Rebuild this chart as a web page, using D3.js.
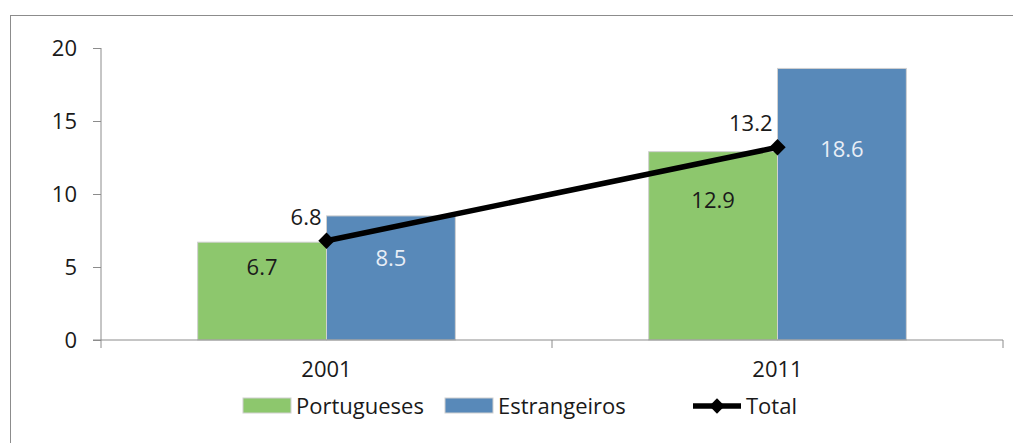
<!DOCTYPE html>
<html>
<head>
<meta charset="utf-8">
<script src="https://cdn.jsdelivr.net/npm/d3@7"></script>
<style>
  body { margin: 0; background: #fff; }
  svg { display: block; font-family: "Open Sans", sans-serif; }
  .axis path, .axis line { stroke: #8c8c8c; }
  .axis text { fill: #1a1a1a; font-size: 22px; font-family: "Open Sans", sans-serif; }
</style>
</head>
<body>
<div id="chart"></div>
<script>
// chart data
const years = ["2001", "2011"];
const portugueses = [6.7, 12.9];
const estrangeiros = [8.5, 18.6];
const total = [6.8, 13.2];
const yTicks = [0, 5, 10, 15, 20];
const seriesNames = ["Portugueses", "Estrangeiros", "Total"];

const width = 1013, height = 443;
const margin = { left: 101, right: 10, top: 48, bottom: 103 };
const green = "#8dc76d", blue = "#5889b9";
const fontSize = "22px";

const svg = d3.select("#chart").append("svg")
    .attr("width", width)
    .attr("height", height);

// outer frame (runs off right/bottom like the original)
svg.append("rect")
    .attr("x", 10.5).attr("y", 15.5)
    .attr("width", 1100).attr("height", 600)
    .attr("fill", "none").attr("stroke", "#8c8c8c");

const x = d3.scaleBand()
    .domain(years)
    .range([margin.left, width - margin.right]);

const inner = d3.scaleBand()
    .domain(["p", "e"])
    .range([0, x.bandwidth()])
    .paddingOuter(0.75);

const y = d3.scaleLinear()
    .domain([0, 20])
    .range([height - margin.bottom, margin.top]);

// bars
const rows = years.map((yr, i) => ({ yr, p: portugueses[i], e: estrangeiros[i] }));
const barData = [];
rows.forEach(r => {
    barData.push({ yr: r.yr, key: "p", v: r.p, color: green, text: "#1a1a1a" });
    barData.push({ yr: r.yr, key: "e", v: r.e, color: blue, text: "#e8eef6" });
});

svg.selectAll(".bar")
    .data(barData)
    .enter().append("rect")
    .attr("class", "bar")
    .attr("x", d => x(d.yr) + inner(d.key))
    .attr("y", d => y(d.v))
    .attr("width", inner.bandwidth())
    .attr("height", d => y(0) - y(d.v))
    .attr("fill", d => d.color)
    .attr("stroke", "#d0d0d0")
    .attr("stroke-width", 1);

// axes
svg.append("g")
    .attr("class", "axis")
    .attr("transform", `translate(${margin.left},0)`)
    .call(d3.axisLeft(y).tickValues(yTicks).tickSize(8).tickPadding(16).tickSizeOuter(0))
    .call(g => g.select(".domain").attr("d", `M0,${y(20)}V${y(0)}`));

const xAxis = svg.append("g")
    .attr("class", "axis")
    .attr("transform", `translate(0,${y(0)})`);
xAxis.append("line")
    .attr("x1", margin.left - 8).attr("x2", width - margin.right)
    .attr("stroke", "#8c8c8c");
const xTickPos = [margin.left, ...years.map(d => x(d) + x.bandwidth())];
xAxis.selectAll(".xt")
    .data(xTickPos)
    .enter().append("line")
    .attr("x1", d => d).attr("x2", d => d)
    .attr("y1", 0).attr("y2", 8)
    .attr("stroke", "#8c8c8c");
xAxis.selectAll(".xl")
    .data(years)
    .enter().append("text")
    .attr("x", d => x(d) + x.bandwidth() / 2)
    .attr("y", 37)
    .attr("text-anchor", "middle")
    .attr("fill", "#1a1a1a")
    .style("font-size", fontSize)
    .text(d => d);

// bar labels (hand placed below the top, like the original)
const labelDrop = { p: [25, 48], e: [42, 81] };
svg.selectAll(".blabel")
    .data(barData)
    .enter().append("text")
    .attr("x", d => x(d.yr) + inner(d.key) + inner.bandwidth() / 2)
    .attr("y", d => y(d.v) + labelDrop[d.key][years.indexOf(d.yr)] + 8)
    .attr("text-anchor", "middle")
    .attr("fill", d => d.text)
    .style("font-size", fontSize)
    .text(d => d.v.toFixed(1));

// total line
const pts = years.map((yr, i) => ({ yr, v: total[i] }));
const line = d3.line()
    .x(d => x(d.yr) + x.bandwidth() / 2)
    .y(d => y(d.v));

svg.append("path")
    .datum(pts)
    .attr("d", line)
    .attr("fill", "none")
    .attr("stroke", "#000")
    .attr("stroke-width", 5.5);

const diamond = d3.symbol().type(d3.symbolDiamond2).size(170);
svg.selectAll(".mk")
    .data(pts)
    .enter().append("path")
    .attr("d", diamond)
    .attr("transform", d => `translate(${x(d.yr) + x.bandwidth() / 2},${y(d.v)})`)
    .attr("fill", "#000");

svg.selectAll(".tlabel")
    .data(pts)
    .enter().append("text")
    .attr("x", d => x(d.yr) + x.bandwidth() / 2 - 5)
    .attr("y", d => y(d.v) - 16)
    .attr("text-anchor", "end")
    .attr("fill", "#1a1a1a")
    .style("font-size", fontSize)
    .text(d => d.v.toFixed(1));

// legend
const legendY = 406;
const legend = svg.append("g");
const legendItems = [
    { name: seriesNames[0], x: 243, type: "rect", color: green },
    { name: seriesNames[1], x: 445, type: "rect", color: blue },
    { name: seriesNames[2], x: 693, type: "line", color: "#000" }
];
legendItems.forEach(it => {
    if (it.type === "rect") {
        legend.append("rect")
            .attr("x", it.x).attr("y", legendY - 8)
            .attr("width", 48).attr("height", 15)
            .attr("fill", it.color)
            .attr("stroke", "#d0d0d0");
    } else {
        legend.append("line")
            .attr("x1", it.x).attr("x2", it.x + 48)
            .attr("y1", legendY).attr("y2", legendY)
            .attr("stroke", "#000").attr("stroke-width", 5.5);
        legend.append("path")
            .attr("d", d3.symbol().type(d3.symbolDiamond2).size(150))
            .attr("transform", `translate(${it.x + 24},${legendY})`)
            .attr("fill", "#000");
    }
    legend.append("text")
        .attr("x", it.x + 53)
        .attr("y", legendY + 8)
        .attr("fill", "#1a1a1a")
        .style("font-size", fontSize)
        .text(it.name);
});
</script>
</body>
</html>
